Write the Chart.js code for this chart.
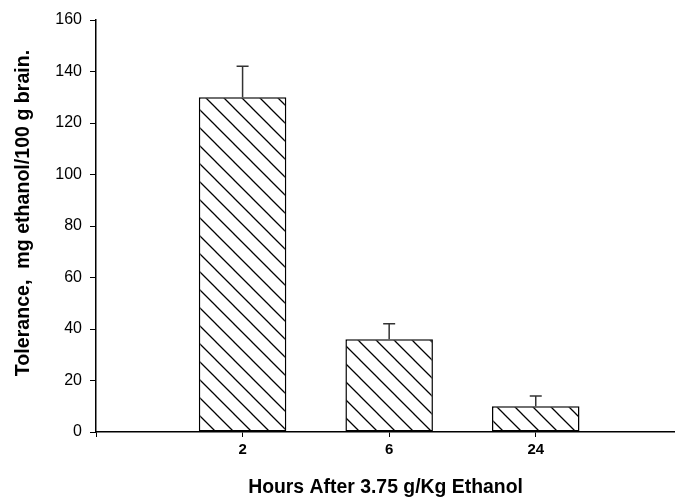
<!DOCTYPE html>
<html>
<head>
<meta charset="utf-8">
<script src="https://cdn.jsdelivr.net/npm/chart.js@4/dist/chart.umd.min.js"></script>
<style>
html,body{margin:0;padding:0;background:#fff;}
#wrap{width:675px;height:499px;position:relative;}
</style>
</head>
<body>
<div id="wrap"><canvas id="c" width="675" height="499"></canvas></div>
<script>
const categories = ['2', '6', '24'];
const tolerance = [130, 36, 10];
const errorUpper = [12, 6, 4];
const xTitle = 'Hours After 3.75 g/Kg Ethanol';
const yTitle = 'Tolerance,  mg ethanol/100 g brain.';

const FONT = "'Liberation Sans', Arial, Helvetica, sans-serif";

function makeHatch() {
  const s = 18;
  const c = document.createElement('canvas');
  c.width = s; c.height = s;
  const g = c.getContext('2d');
  g.fillStyle = '#fff';
  g.fillRect(0, 0, s, s);
  g.strokeStyle = '#000';
  g.lineWidth = 1.3;
  g.beginPath();
  g.moveTo(-3, -3); g.lineTo(s + 3, s + 3);
  g.moveTo(-3, s - 3); g.lineTo(3, s + 3);
  g.moveTo(s - 3, -3); g.lineTo(s + 3, 3);
  g.stroke();
  return g.createPattern(c, 'repeat');
}

const errorBars = {
  id: 'errorBars',
  afterDatasetsDraw(chart) {
    const ctx = chart.ctx;
    const meta = chart.getDatasetMeta(0);
    const ys = chart.scales.y;
    ctx.save();
    ctx.strokeStyle = '#333';
    ctx.lineWidth = 1.5;
    meta.data.forEach((bar, i) => {
      const top = ys.getPixelForValue(tolerance[i] + errorUpper[i]);
      const x = bar.x;
      ctx.beginPath();
      ctx.moveTo(x, bar.y);
      ctx.lineTo(x, top);
      ctx.moveTo(x - 6, top);
      ctx.lineTo(x + 6, top);
      ctx.stroke();
    });
    ctx.restore();
  }
};

const yTitlePlugin = {
  id: 'yTitlePlugin',
  afterDraw(chart) {
    const ctx = chart.ctx;
    ctx.save();
    ctx.translate(24, 213);
    ctx.rotate(-Math.PI / 2);
    ctx.font = "bold 19.6px " + FONT;
    ctx.fillStyle = '#000';
    ctx.textAlign = 'center';
    ctx.textBaseline = 'middle';
    ctx.fillText(yTitle, 0, 0);
    ctx.restore();
  }
};

const points = tolerance.map((v, i) => ({ x: i + 1, y: v }));

new Chart(document.getElementById('c'), {
  type: 'bar',
  data: {
    datasets: [{
      data: points,
      backgroundColor: makeHatch(),
      borderColor: '#000',
      borderWidth: 1.5,
      borderSkipped: false,
      categoryPercentage: 1,
      barPercentage: 0.597
    }]
  },
  options: {
    responsive: false,
    animation: false,
    events: [],
    layout: { padding: { top: 20, right: 0, left: 0, bottom: 0 } },
    plugins: { legend: { display: false }, tooltip: { enabled: false }, title: { display: false } },
    scales: {
      x: {
        type: 'linear',
        min: 0,
        max: 3.95,
        offset: false,
        afterBuildTicks: s => { s.ticks = [0, 1, 2, 3].map(v => ({ value: v })); },
        afterFit: s => { s.height = 67; },
        ticks: {
          autoSkip: false,
          maxRotation: 0,
          padding: 4,
          color: '#000',
          font: { family: FONT, size: 15, weight: 'bold' },
          callback: v => (v >= 1 && v <= categories.length) ? categories[v - 1] : ''
        },
        grid: { display: true, offset: false, drawOnChartArea: false, drawTicks: true, tickLength: 5, color: '#000', lineWidth: 1 },
        border: { display: true, color: '#000', width: 1.5 },
        title: {
          display: true, text: xTitle, color: '#000',
          font: { family: FONT, size: 19.4, weight: 'bold' },
          padding: { top: 0, bottom: 0 }
        }
      },
      y: {
        min: 0,
        max: 160,
        afterFit: s => { s.width = 96; },
        ticks: {
          stepSize: 20,
          padding: 8,
          color: '#000',
          font: { family: FONT, size: 16 }
        },
        grid: { display: true, offset: false, drawOnChartArea: false, drawTicks: true, tickLength: 6, color: '#000', lineWidth: 1 },
        border: { display: true, color: '#000', width: 1.5 },
        title: { display: false }
      }
    }
  },
  plugins: [errorBars, yTitlePlugin]
});
</script>
</body>
</html>
